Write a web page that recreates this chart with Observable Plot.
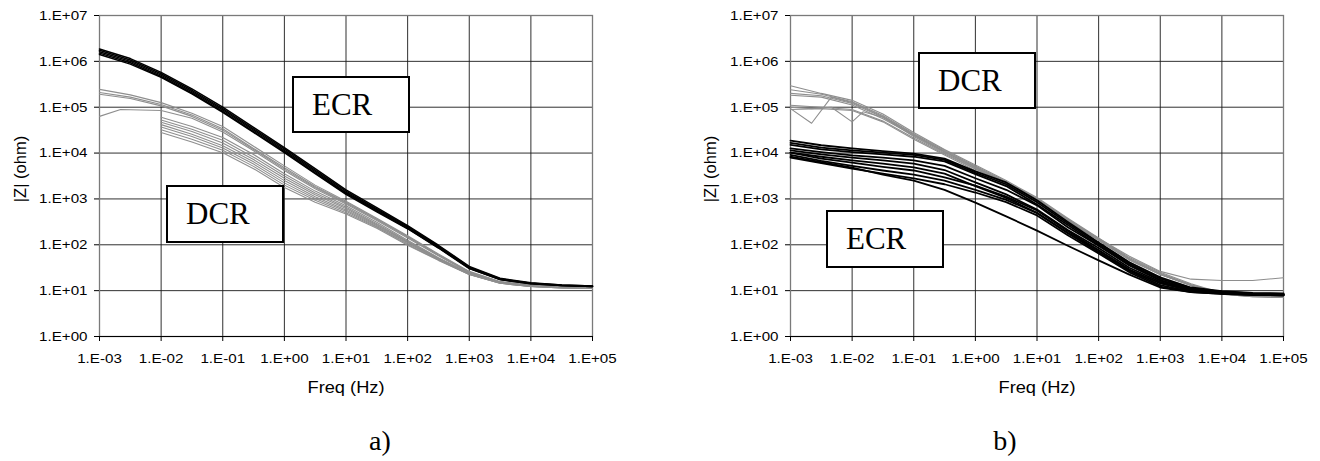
<!DOCTYPE html>
<html><head><meta charset="utf-8">
<script src="https://cdn.jsdelivr.net/npm/d3@7"></script>
<script src="https://cdn.jsdelivr.net/npm/@observablehq/plot@0.6"></script>
<style>
body{margin:0;background:#fff;}
#wrap{position:relative;width:1320px;height:461px;overflow:hidden;background:#fff;font-family:"Liberation Sans",Arial,sans-serif;}
.panel{position:absolute;top:0;}
.lab{position:absolute;white-space:nowrap;color:#000;line-height:1;}
.box{position:absolute;box-sizing:border-box;border:2px solid #000;background:#fff;font-family:"Liberation Serif","Times New Roman",serif;font-size:31px;display:flex;align-items:center;padding-left:18px;color:#000;}
</style></head><body><div id="wrap"></div>
<script>
// ---------- tick values and labels ----------
const xTicks = [1e-3, 1e-2, 1e-1, 1, 10, 100, 1e3, 1e4, 1e5];
const xTickLabels = ["1.E-03","1.E-02","1.E-01","1.E+00","1.E+01","1.E+02","1.E+03","1.E+04","1.E+05"];
const yTicks = [1, 10, 100, 1e3, 1e4, 1e5, 1e6, 1e7];
const yTickLabels = ["1.E+00","1.E+01","1.E+02","1.E+03","1.E+04","1.E+05","1.E+06","1.E+07"];
const xLabel = "Freq (Hz)";
const yLabel = "|Z| (ohm)";

// ---------- frequency grids (Hz) ----------
const freq = [0.001, 0.00316, 0.01, 0.0316, 0.1, 0.316, 1, 3.16, 10, 31.6, 100, 316, 1000, 3160, 10000, 31600, 100000];
const freqFrom10m = [0.01, 0.0316, 0.1, 0.316, 1, 3.16, 10, 31.6, 100, 316, 1000, 3160, 10000, 31600, 100000];
const freqKinkA = [0.001, 0.0022, 0.01, 0.0316, 0.1, 0.316, 1, 3.16, 10, 31.6, 100, 316, 1000, 3160, 10000, 31600, 100000];
const freqKinkB1 = [0.001, 0.0022, 0.0046, 0.01, 0.0316, 0.1, 0.316, 1, 3.16, 10, 31.6, 100, 316, 1000, 3160, 10000, 31600, 100000];
const freqKinkB2 = [0.001, 0.0022, 0.0046, 0.01, 0.015, 0.0316, 0.1, 0.316, 1, 3.16, 10, 31.6, 100, 316, 1000, 3160, 10000, 31600, 100000];

// ---------- panel a) |Z| (ohm) ----------
const aECR1 = [1.86e6, 1.15e6, 5.75e5, 2.51e5, 1.00e5, 3.63e4, 1.32e4, 4.57e3, 1.58e3, 646, 263, 97.7, 33.9, 18.6, 14.8, 13.2, 12.6];
const aECR2 = [1.74e6, 1.07e6, 5.37e5, 2.34e5, 9.33e4, 3.39e4, 1.23e4, 4.27e3, 1.48e3, 603, 251, 93.3, 32.4, 18.2, 14.5, 13.2, 12.6];
const aECR3 = [1.62e6, 1.00e6, 5.01e5, 2.19e5, 8.71e4, 3.16e4, 1.15e4, 3.98e3, 1.38e3, 575, 240, 89.1, 31.6, 17.8, 14.5, 12.9, 12.3];
const aECR4 = [1.51e6, 9.33e5, 4.68e5, 2.04e5, 8.13e4, 2.95e4, 1.07e4, 3.72e3, 1.32e3, 550, 229, 87.1, 30.9, 17.4, 14.1, 12.9, 12.3];
const aECR5 = [1.41e6, 8.71e5, 4.47e5, 1.95e5, 7.76e4, 2.82e4, 1.02e4, 3.55e3, 1.26e3, 525, 224, 85.1, 30.2, 17.4, 14.1, 12.9, 12.3];

const aDCR1 = [2.45e5, 1.86e5, 1.26e5, 7.41e4, 3.80e4, 1.41e4, 5.25e3, 2.00e3, 891, 380, 158, 63.1, 26.3, 15.8, 13.2, 12.3, 11.7];
const aDCR2 = [2.09e5, 1.66e5, 1.15e5, 6.76e4, 3.39e4, 1.26e4, 4.79e3, 1.86e3, 851, 363, 151, 60.3, 25.7, 15.5, 12.9, 12.0, 11.7];
const aDCR3 = [1.91e5, 1.55e5, 1.07e5, 6.31e4, 3.16e4, 1.20e4, 4.47e3, 1.78e3, 813, 355, 148, 58.9, 25.1, 15.5, 12.9, 12.0, 11.5];
const aDCR4 = [6.31e4, 8.91e4, 8.51e4, 5.75e4, 2.88e4, 1.12e4, 4.17e3, 1.66e3, 776, 339, 141, 57.5, 24.5, 15.1, 12.6, 12.0, 11.5];
const aDCR5 = [6.03e4, 3.80e4, 2.19e4, 9.33e3, 3.55e3, 1.48e3, 708, 309, 126, 52.5, 24.0, 15.1, 12.6, 11.7, 11.5];
const aDCR6 = [5.25e4, 3.31e4, 1.91e4, 8.13e3, 3.16e3, 1.35e3, 661, 288, 120, 51.3, 23.4, 14.8, 12.6, 11.7, 11.5];
const aDCR7 = [4.68e4, 2.95e4, 1.66e4, 7.24e3, 2.82e3, 1.23e3, 617, 275, 115, 50.1, 23.4, 14.8, 12.6, 11.7, 11.5];
const aDCR8 = [4.17e4, 2.57e4, 1.45e4, 6.46e3, 2.51e3, 1.12e3, 575, 263, 112, 49.0, 22.9, 14.8, 12.3, 11.7, 11.5];
const aDCR9 = [3.72e4, 2.29e4, 1.29e4, 5.75e3, 2.24e3, 1.02e3, 537, 251, 107, 47.9, 22.9, 14.5, 12.3, 11.5, 11.2];
const aDCR10 = [3.24e4, 2.00e4, 1.15e4, 5.13e3, 2.00e3, 933, 501, 240, 102, 46.8, 22.4, 14.5, 12.3, 11.5, 11.2];
const aDCR11 = [2.82e4, 1.74e4, 1.02e4, 4.57e3, 1.78e3, 851, 468, 229, 97.7, 45.7, 22.4, 14.5, 12.3, 11.5, 11.2];

// ---------- panel b) |Z| (ohm) ----------
const bDCR1 = [2.95e5, 2.00e5, 1.41e5, 7.08e4, 2.82e4, 1.20e4, 5.50e3, 2.51e3, 1.07e3, 380, 141, 52.5, 25.1, 14.1, 8.91, 7.94, 7.59];
const bDCR2 = [2.40e5, 1.91e5, 1.32e5, 6.61e4, 2.63e4, 1.15e4, 5.25e3, 2.40e3, 1.02e3, 363, 135, 50.1, 24.0, 13.5, 8.71, 7.76, 7.41];
const bDCR3 = [2.00e5, 1.78e5, 1.20e5, 6.03e4, 2.51e4, 1.10e4, 5.01e3, 2.29e3, 1.00e3, 355, 132, 49.0, 23.4, 13.2, 8.51, 7.59, 7.24];
const bDCR4 = [1.82e5, 1.66e5, 1.12e5, 5.62e4, 2.40e4, 1.05e4, 4.79e3, 2.24e3, 977, 347, 129, 47.9, 22.9, 13.2, 8.51, 7.59, 7.24];
const bDCR5 = [1.10e5, 1.00e5, 8.91e4, 5.01e4, 2.14e4, 9.55e3, 4.47e3, 2.14e3, 933, 331, 126, 46.8, 22.4, 12.9, 8.32, 7.41, 7.08];
const bDCR6 = [8.91e4, 9.33e4, 8.51e4, 4.79e4, 2.00e4, 9.12e3, 4.17e3, 2.00e3, 912, 355, 138, 56.2, 26.3, 17.8, 16.6, 16.6, 19.1];
const bDCR7 = [9.33e4, 4.47e4, 1.66e5, 1.26e5, 6.31e4, 2.51e4, 1.07e4, 4.90e3, 2.24e3, 977, 347, 129, 47.9, 22.9, 13.2, 8.51, 7.59, 7.24];
const bDCR8 = [1.00e5, 9.33e4, 1.00e5, 4.79e4, 7.94e4, 6.03e4, 2.29e4, 1.00e4, 4.57e3, 2.14e3, 933, 339, 126, 46.8, 22.4, 12.9, 8.32, 7.41, 7.08];

const bECR1 = [1.86e4, 1.48e4, 1.26e4, 1.10e4, 9.77e3, 7.59e3, 3.98e3, 2.29e3, 933, 316, 112, 41.7, 19.5, 11.7, 9.77, 8.91, 8.71];
const bECR2 = [1.66e4, 1.32e4, 1.15e4, 1.02e4, 9.12e3, 7.08e3, 3.72e3, 2.09e3, 851, 295, 105, 38.9, 18.2, 11.2, 9.55, 8.71, 8.51];
const bECR3 = [1.51e4, 1.20e4, 1.05e4, 9.33e3, 8.32e3, 6.61e3, 3.47e3, 1.91e3, 759, 269, 97.7, 36.3, 17.0, 10.7, 9.33, 8.51, 8.32];
const bECR4 = [1.26e4, 1.05e4, 8.91e3, 7.94e3, 6.92e3, 5.25e3, 2.82e3, 1.58e3, 724, 240, 95.5, 35.5, 16.6, 10.7, 9.33, 8.51, 8.32];
const bECR5 = [1.15e4, 9.33e3, 7.94e3, 6.92e3, 5.89e3, 4.27e3, 2.29e3, 1.26e3, 589, 209, 85.1, 31.6, 15.5, 10.2, 9.12, 8.32, 8.13];
const bECR6 = [1.02e4, 8.32e3, 6.92e3, 5.89e3, 4.90e3, 3.55e3, 1.91e3, 1.05e3, 501, 182, 75.9, 28.2, 14.5, 10.0, 8.91, 8.32, 8.13];
const bECR7 = [1.02e4, 7.59e3, 6.17e3, 5.01e3, 4.17e3, 2.95e3, 1.95e3, 1.12e3, 562, 200, 75.9, 28.8, 14.5, 10.0, 8.91, 8.32, 8.13];
const bECR8 = [9.12e3, 6.76e3, 5.25e3, 4.17e3, 3.39e3, 2.51e3, 1.58e3, 955, 490, 178, 69.2, 26.9, 13.2, 9.55, 8.71, 8.13, 7.94];
const bECR9 = [7.94e3, 6.03e3, 4.57e3, 3.55e3, 2.82e3, 2.09e3, 1.38e3, 851, 437, 162, 64.6, 25.1, 12.3, 9.33, 8.51, 8.13, 7.94];
const bECR10 = [8.32e3, 6.31e3, 4.79e3, 3.39e3, 2.51e3, 1.58e3, 832, 417, 204, 95.5, 45.7, 22.4, 11.7, 9.33, 8.51, 8.13, 7.94];

// ---------- series lists ----------
const panelA = [
  {group:"DCR", f:freq, z:aDCR1}, {group:"DCR", f:freq, z:aDCR2}, {group:"DCR", f:freq, z:aDCR3},
  {group:"DCR", f:freqKinkA, z:aDCR4},
  {group:"DCR", f:freqFrom10m, z:aDCR5}, {group:"DCR", f:freqFrom10m, z:aDCR6}, {group:"DCR", f:freqFrom10m, z:aDCR7},
  {group:"DCR", f:freqFrom10m, z:aDCR8}, {group:"DCR", f:freqFrom10m, z:aDCR9}, {group:"DCR", f:freqFrom10m, z:aDCR10},
  {group:"DCR", f:freqFrom10m, z:aDCR11},
  {group:"ECR", f:freq, z:aECR1}, {group:"ECR", f:freq, z:aECR2}, {group:"ECR", f:freq, z:aECR3},
  {group:"ECR", f:freq, z:aECR4}, {group:"ECR", f:freq, z:aECR5}
];
const panelB = [
  {group:"DCR", f:freq, z:bDCR1}, {group:"DCR", f:freq, z:bDCR2}, {group:"DCR", f:freq, z:bDCR3},
  {group:"DCR", f:freq, z:bDCR4}, {group:"DCR", f:freq, z:bDCR5}, {group:"DCR", f:freq, z:bDCR6},
  {group:"DCR", f:freqKinkB1, z:bDCR7}, {group:"DCR", f:freqKinkB2, z:bDCR8},
  {group:"ECR", f:freq, z:bECR1}, {group:"ECR", f:freq, z:bECR2}, {group:"ECR", f:freq, z:bECR3},
  {group:"ECR", f:freq, z:bECR4}, {group:"ECR", f:freq, z:bECR5}, {group:"ECR", f:freq, z:bECR6},
  {group:"ECR", f:freq, z:bECR7}, {group:"ECR", f:freq, z:bECR8}, {group:"ECR", f:freq, z:bECR9},
  {group:"ECR", f:freq, z:bECR10}
];

const xFmt = new Map(xTicks.map((t, i) => [t, xTickLabels[i]]));
const yFmt = new Map(yTicks.map((t, i) => [t, yTickLabels[i]]));

function buildPanel(list, ml, mr, blackWidth) {
  const rows = [];
  list.forEach((s, i) => s.z.forEach((z, j) => rows.push({f: s.f[j], z, id: i, group: s.group})));
  const gray = rows.filter(r => r.group === "DCR");
  const black = rows.filter(r => r.group === "ECR");
  return Plot.plot({
    width: 660, height: 400,
    marginLeft: ml, marginRight: mr, marginTop: 15, marginBottom: 64,
    style: {fontFamily: '"Liberation Sans", Arial, sans-serif', fontSize: "13.5px", color: "#000", background: "transparent", overflow: "visible"},
    x: {type: "log", domain: [1e-3, 1e5], label: null},
    y: {type: "log", domain: [1, 1e7], label: null},
    marks: [
      Plot.gridX(xTicks, {stroke: "#1a1a1a", strokeOpacity: 0.9, strokeWidth: 1}),
      Plot.gridY(yTicks, {stroke: "#1a1a1a", strokeOpacity: 0.9, strokeWidth: 1}),
      Plot.frame({stroke: "#7a7a7a", strokeWidth: 1.3}),
      Plot.line(gray, {x: "f", y: "z", z: "id", stroke: "#8e8e8e", strokeWidth: 1.1}),
      Plot.line(black, {x: "f", y: "z", z: "id", stroke: "#000", strokeWidth: blackWidth}),
      Plot.ruleY([1], {stroke: "#000", strokeWidth: 1.2}),
      Plot.axisX(xTicks, {tickFormat: d => xFmt.get(d), tickSize: 5, tickPadding: 12, label: null, stroke: "#000"}),
      Plot.axisY(yTicks, {tickFormat: d => yFmt.get(d), tickSize: 5, tickPadding: 7, label: null, stroke: "#000"})
    ]
  });
}

const wrap = document.getElementById("wrap");
function place(el, left) {
  const d = document.createElement("div");
  d.className = "panel"; d.style.left = left + "px";
  d.appendChild(el); wrap.appendChild(d);
  el.querySelectorAll("text").forEach(t => {
    const w = t.getComputedTextLength();
    if (w > 0) { t.setAttribute("textLength", (w * 1.12).toFixed(1)); t.setAttribute("lengthAdjust", "spacingAndGlyphs"); }
  });
}
place(buildPanel(panelA, 99, 68, 1.5), 0);
place(buildPanel(panelB, 130, 37, 1.8), 660);

function label(text, x, y, css) {
  const d = document.createElement("div");
  d.className = "lab"; d.textContent = text;
  d.style.left = x + "px"; d.style.top = y + "px";
  Object.assign(d.style, css);
  wrap.appendChild(d);
}
// axis titles
label(xLabel, 346, 380, {fontSize: "16px", transform: "translateX(-50%) scaleX(1.14)"});
label(xLabel, 1037, 380, {fontSize: "16px", transform: "translateX(-50%) scaleX(1.14)"});
label(yLabel, 20, 169, {fontSize: "16.5px", transform: "translate(-50%,-50%) rotate(-90deg)"});
label(yLabel, 710, 169, {fontSize: "16.5px", transform: "translate(-50%,-50%) rotate(-90deg)"});
// panel captions
label("a)", 380, 427, {fontSize: "28px", fontFamily: '"Liberation Serif","Times New Roman",serif', transform: "translateX(-50%)"});
label("b)", 1005, 427, {fontSize: "28px", fontFamily: '"Liberation Serif","Times New Roman",serif', transform: "translateX(-50%)"});

// annotation boxes
const boxes = [
  {text: "ECR", left: 292, top: 76, w: 118, h: 57},
  {text: "DCR", left: 166, top: 185, w: 118, h: 58},
  {text: "DCR", left: 918, top: 52, w: 118, h: 57},
  {text: "ECR", left: 826, top: 210, w: 118, h: 58}
];
boxes.forEach(b => {
  const d = document.createElement("div");
  d.className = "box"; d.textContent = b.text;
  Object.assign(d.style, {left: b.left + "px", top: b.top + "px", width: b.w + "px", height: b.h + "px"});
  wrap.appendChild(d);
});
</script></body></html>
